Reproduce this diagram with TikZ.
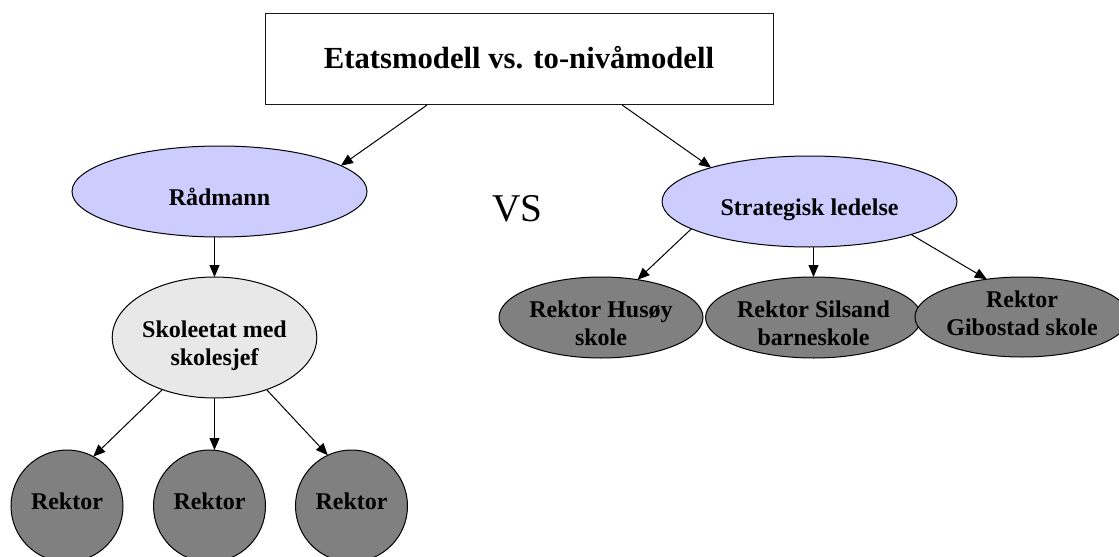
\documentclass[tikz,border=0pt]{standalone}
\usepackage{fontspec}
\setmainfont{Liberation Serif}
\usetikzlibrary{arrows.meta,shapes.geometric,calc}
\definecolor{lav}{HTML}{CCCCFF}
\definecolor{lgray}{HTML}{E8E8E8}
\definecolor{dgray}{HTML}{808080}
\newcommand\tx[2]{\raisebox{#1}[\height][\depth]{\begin{tabular}{@{}c@{}}#2\end{tabular}}}
\begin{document}
\begin{tikzpicture}[x=0.75pt,y=-0.75pt,
  every node/.style={inner sep=0pt, outer sep=0pt, line width=0.75pt},
  nodefont/.style={font=\fontsize{18}{21}\selectfont\bfseries},
  elli/.style={ellipse, draw=black, nodefont},
  rcirc/.style={circle, draw=black, fill=dgray, minimum size=84pt, nodefont},
  conn/.style={-{Triangle[length=9pt,width=7.5pt]}, line width=0.75pt, black}]
\clip (0,0) rectangle (1119,556);
\fill[white] (0,0) rectangle (1119,556);

\node[draw=black!90, fill=white, rectangle, minimum width=381pt, minimum height=68.25pt,
      font=\fontsize{23}{27}\selectfont\bfseries] (title) at (519,59.5) {\tx{-1pt}{Etatsmodell vs. to-nivåmodell}};

\node[elli, fill=lav, minimum width=221.25pt, minimum height=68.25pt] (raad) at (219.5,191.5) {\tx{-6pt}{Rådmann}};
\node[elli, fill=lgray, minimum width=137.25pt, minimum height=90.75pt] (skole) at (214.5,337.5) {\tx{-6.4pt}{Skoleetat med\\skolesjef}};
\node[rcirc] (rek1) at (67,506) {\tx{1.5pt}{Rektor}};
\node[rcirc] (rek2) at (209.5,506) {\tx{1.5pt}{Rektor}};
\node[rcirc] (rek3) at (351.5,506) {\tx{1.5pt}{Rektor}};

\node[font=\fontsize{29.5}{34}\selectfont] (vs) at (517.5,208.5) {VS};

\node[elli, fill=lav, minimum width=221.25pt, minimum height=68.25pt] (strat) at (809.5,201.5) {\tx{-6.4pt}{Strategisk ledelse}};
\node[elli, fill=dgray, minimum width=153pt, minimum height=60.75pt] (hus) at (601,317.5) {\tx{-6pt}{Rektor Husøy\\skole}};
\node[elli, fill=dgray, minimum width=152.25pt, minimum height=60.75pt] (sil) at (813.5,317.5) {\tx{-6.4pt}{Rektor Silsand\\barneskole}};
\node[elli, fill=dgray, minimum width=142.5pt, minimum height=60pt] (gib) at (1022,317) {\tx{1.1pt}{Rektor\\Gibostad skole}};

\draw[conn] ($(title.south west)!0.319!(title.south east)$) -- (raad.12);
\draw[conn] ($(title.south west)!0.703!(title.south east)$) -- (strat.161);
\draw[conn] (skole.north |- raad.south) -- (skole.north);
\draw[conn] (skole.225) -- (rek1.62);
\draw[conn] (skole.south) -- (skole.south |- rek2.north);
\draw[conn] (skole.315) -- (rek3.115);
\draw[conn] (strat.193) -- (hus.46);
\draw[conn] (sil.north |- strat.south) -- (sil.north);
\draw[conn] (strat.342) -- (gib.133);
\end{tikzpicture}
\end{document}
